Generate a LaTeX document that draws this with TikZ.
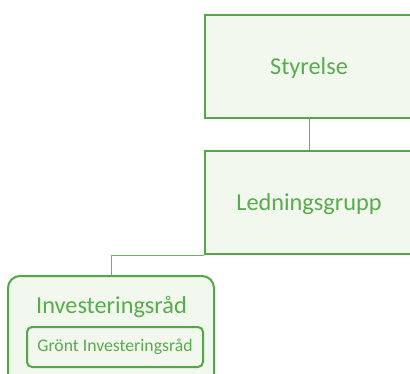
\documentclass[tikz,border=0pt]{standalone}
\usepackage{fontspec}
\setmainfont{Carlito}
\definecolor{gborder}{HTML}{52A847}
\definecolor{gtext}{HTML}{55AD4B}
\definecolor{gfill}{HTML}{F3F8EF}
\definecolor{gline}{HTML}{6AB35F}
\begin{document}
\begin{tikzpicture}[x=1pt,y=-1pt,
  box/.style={draw=gborder,line width=2pt,fill=gfill,inner sep=0pt},
  lbl/.style={text=gtext,inner sep=0pt,font=\fontsize{24.3}{28}\selectfont},
  conn/.style={draw=gline,line width=1pt}]
\useasboundingbox (0,0) rectangle (410,373);
\node[box,minimum width=208pt,minimum height=103pt] (sty) at (309,66.5) {};
\node[lbl] (stytext) at (309,68) {Styrelse};
\node[box,minimum width=208pt,minimum height=103pt] (lg) at (309,202.5) {};
\node[lbl] (lgtext) at (309,204) {Ledningsgrupp};
\node[box,rounded corners=12pt,minimum width=206pt,minimum height=114pt] (inv) at (111,333) {};
\node[lbl] (invtext) at (111.5,307) {Investeringsråd};
\node[box,rounded corners=5pt,minimum width=176pt,minimum height=40pt,text=gtext,font=\fontsize{17.7}{20}\selectfont] (gront) at (115,347) {Grönt Investeringsråd};
\draw[conn] (sty.south) -- (lg.north);
\draw[conn] (lg.south west) -| (inv.north);
\end{tikzpicture}
\end{document}
